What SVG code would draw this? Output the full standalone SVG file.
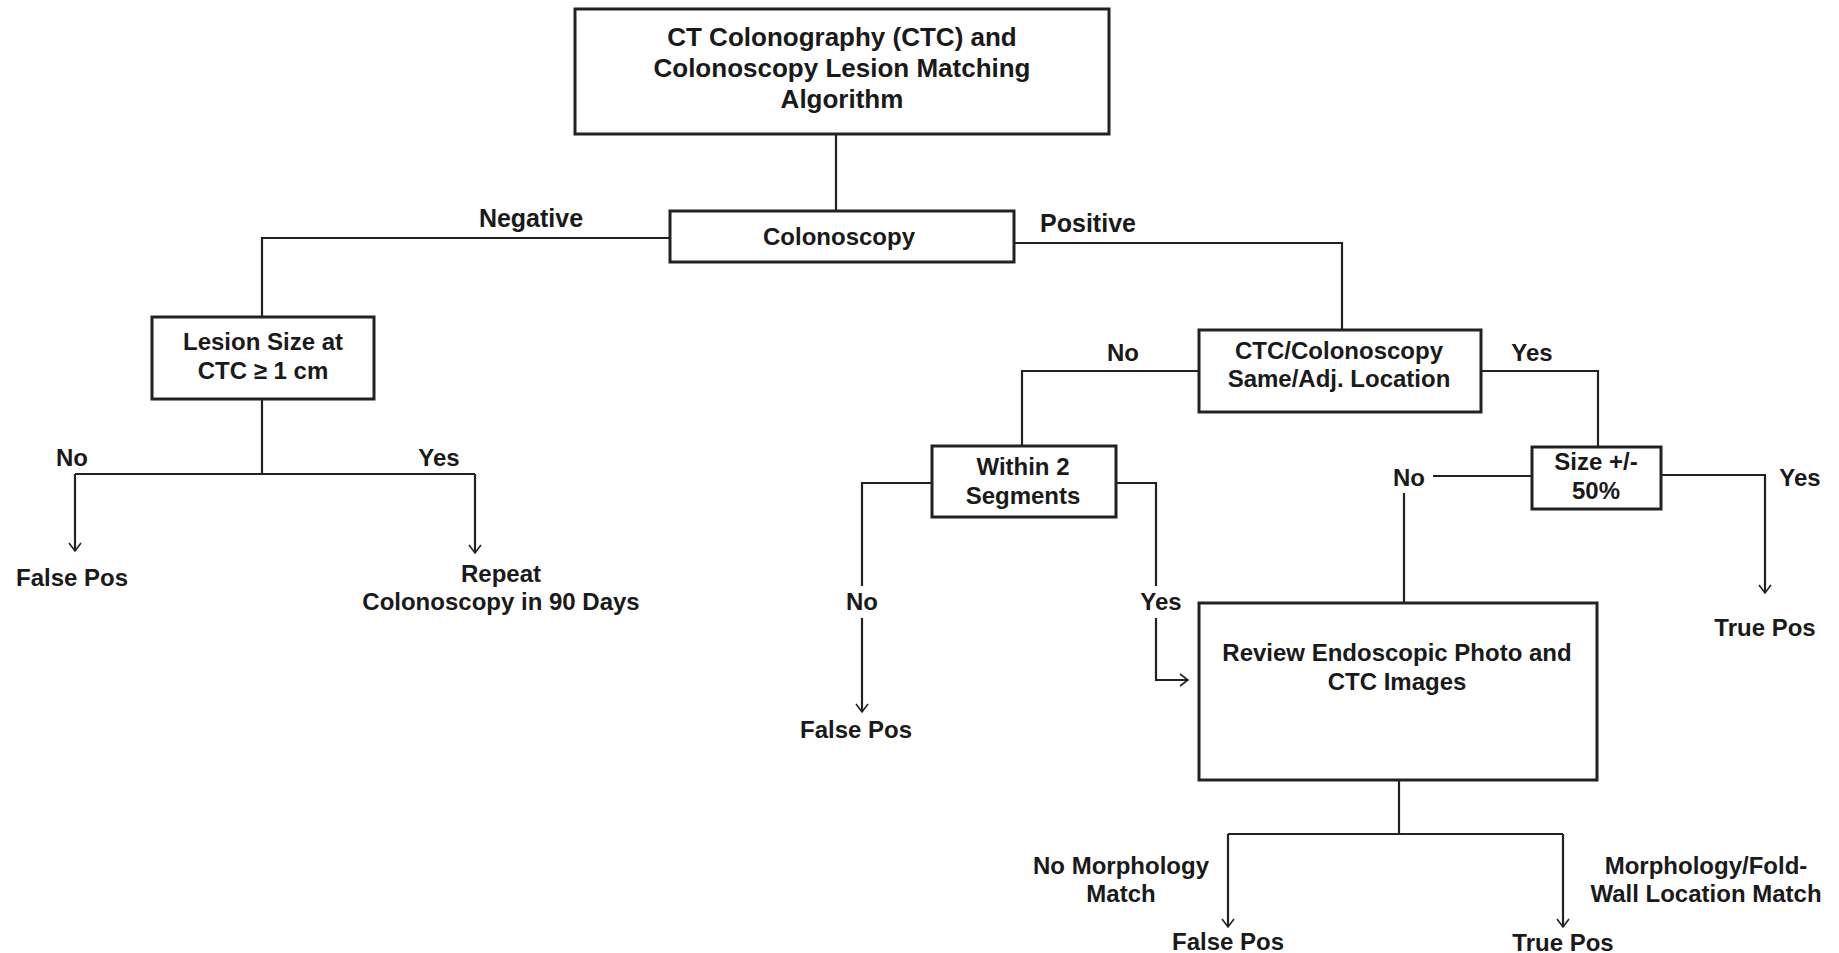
<svg xmlns="http://www.w3.org/2000/svg" width="1839" height="953" viewBox="0 0 1839 953">
<style>
  .box { fill: #ffffff; stroke: #222222; stroke-width: 3; }
  .ln { fill: none; stroke: #222222; stroke-width: 2.2; }
  .arr { fill: none; stroke: #222222; stroke-width: 2.2; marker-end: url(#ah); }
  text { font-family: "Liberation Sans", Arial, sans-serif; font-weight: bold; fill: #1a1a1a; text-anchor: middle; font-size: 24px; }
  .title { font-size: 26px; }
  .big { font-size: 25px; }
</style>
<defs>
  <marker id="ah" markerUnits="userSpaceOnUse" viewBox="-10 -8 12 16" refX="0" refY="0" markerWidth="12" markerHeight="16" orient="auto">
    <path d="M-8,-6 L0,0 L-8,6" fill="none" stroke="#222222" stroke-width="1.6"/>
  </marker>
</defs>
<rect width="1839" height="953" fill="#ffffff"/>

<g id="connectors">
  <path class="ln" d="M836,134 V211"/>
  <path class="ln" d="M670,238 H262 V317"/>
  <path class="ln" d="M1014,243 H1342 V330"/>
  <path class="ln" d="M262,399 V474"/>
  <path class="ln" d="M75,474 H475"/>
  <path class="arr" d="M75,474 V551"/>
  <path class="arr" d="M475,474 V553"/>
  <path class="ln" d="M1199,371 H1022 V446"/>
  <path class="ln" d="M1481,371 H1598 V447"/>
  <path class="ln" d="M932,483 H862 V586"/>
  <path class="arr" d="M862,618 V712"/>
  <path class="ln" d="M1116,483 H1156 V586"/>
  <path class="arr" d="M1156,618 V680 H1188"/>
  <path class="ln" d="M1532,476 H1433"/>
  <path class="ln" d="M1404,493 V603"/>
  <path class="arr" d="M1661,475 H1765 V593"/>
  <path class="ln" d="M1399,780 V834"/>
  <path class="ln" d="M1228,834 H1563"/>
  <path class="arr" d="M1228,834 V927"/>
  <path class="arr" d="M1563,834 V927"/>
</g>

<g id="edge-labels">
  <text class="big" x="531" y="227">Negative</text>
  <text class="big" x="1088" y="232">Positive</text>
  <text x="72" y="466">No</text>
  <text x="439" y="466">Yes</text>
  <text x="1123" y="361">No</text>
  <text x="1532" y="361">Yes</text>
  <text x="862" y="610">No</text>
  <text x="1161" y="610">Yes</text>
  <text x="1409" y="486">No</text>
  <text x="1800" y="486">Yes</text>
  <text x="1121" y="874">No Morphology</text>
  <text x="1121" y="902">Match</text>
  <text x="1706" y="874">Morphology/Fold-</text>
  <text x="1706" y="902">Wall Location Match</text>
</g>

<g id="node-title">
  <rect class="box" x="575" y="9" width="534" height="125"/>
  <text class="title" x="842" y="46">CT Colonography (CTC) and</text>
  <text class="title" x="842" y="77">Colonoscopy Lesion Matching</text>
  <text class="title" x="842" y="108">Algorithm</text>
</g>

<g id="node-colonoscopy">
  <rect class="box" x="670" y="211" width="344" height="51"/>
  <text x="839" y="245">Colonoscopy</text>
</g>

<g id="node-lesion-size">
  <rect class="box" x="152" y="317" width="222" height="82"/>
  <text x="263" y="350">Lesion Size at</text>
  <text x="263" y="379">CTC ≥ 1 cm</text>
</g>

<g id="node-false-pos-1">
  <text x="72" y="586">False Pos</text>
</g>

<g id="node-repeat">
  <text x="501" y="582">Repeat</text>
  <text x="501" y="610">Colonoscopy in 90 Days</text>
</g>

<g id="node-location">
  <rect class="box" x="1199" y="330" width="282" height="82"/>
  <text x="1339" y="359">CTC/Colonoscopy</text>
  <text x="1339" y="387">Same/Adj. Location</text>
</g>

<g id="node-within">
  <rect class="box" x="932" y="446" width="184" height="71"/>
  <text x="1023" y="475">Within 2</text>
  <text x="1023" y="504">Segments</text>
</g>

<g id="node-false-pos-2">
  <text x="856" y="738">False Pos</text>
</g>

<g id="node-size">
  <rect class="box" x="1532" y="447" width="129" height="62"/>
  <text x="1596" y="470">Size +/-</text>
  <text x="1596" y="499">50%</text>
</g>

<g id="node-true-pos-1">
  <text x="1765" y="636">True Pos</text>
</g>

<g id="node-review">
  <rect class="box" x="1199" y="603" width="398" height="177"/>
  <text x="1397" y="661">Review Endoscopic Photo and</text>
  <text x="1397" y="690">CTC Images</text>
</g>

<g id="node-false-pos-3">
  <text x="1228" y="950">False Pos</text>
</g>

<g id="node-true-pos-2">
  <text x="1563" y="951">True Pos</text>
</g>
</svg>
